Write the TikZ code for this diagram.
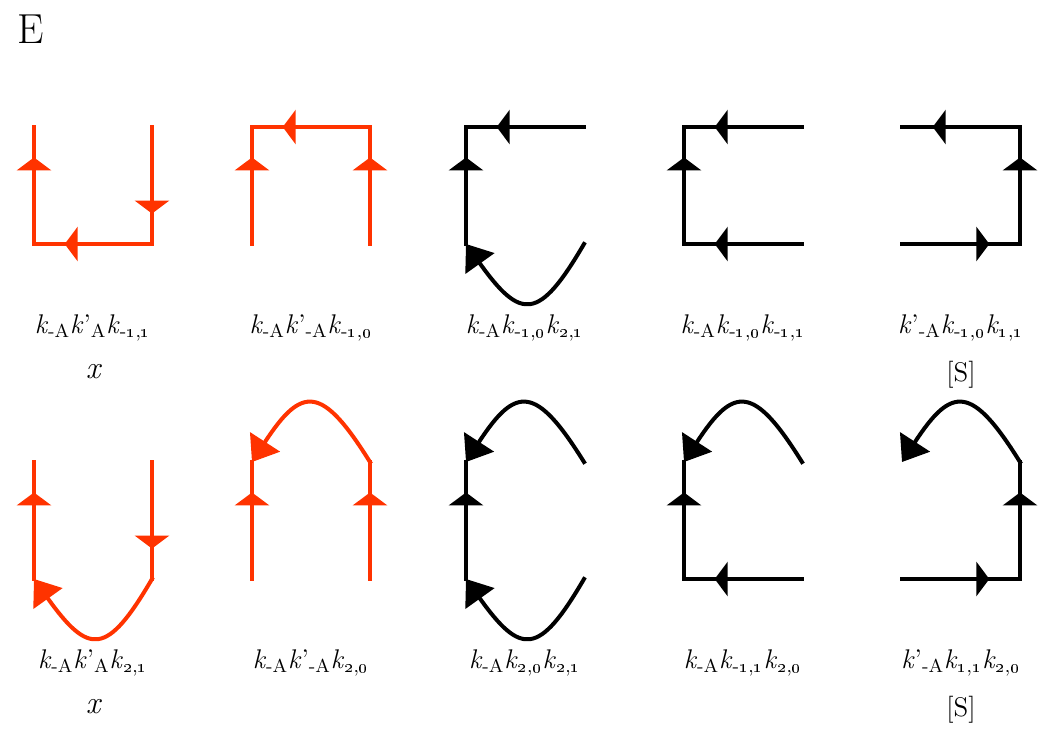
\documentclass[tikz,border=0pt]{standalone}
\usetikzlibrary{arrows.meta,decorations.markings}
\definecolor{pathred}{RGB}{255,51,0}
\newcommand\ratek[1]{\textit{k}\textsubscript{#1}}
\newcommand\ratekp[1]{\textit{k}’\textsubscript{#1}}
\newcommand\os[1]{\oldstylenums{#1}}
\newcommand\corners{%
\coordinate (tl) at (0,0);
\coordinate (tr) at (\W,0);
\coordinate (bl) at (0,\H);
\coordinate (br) at (\W,\H);
}

\begin{document}
\begin{tikzpicture}[x=0.5pt,y=-0.5pt,
	every node/.style={inner sep=0pt,font=\fontsize{13.5}{16}\selectfont},
	seg/.style={line width=2pt,line cap=rect,line join=miter,postaction={decorate},
		decoration={markings,mark=at position 0.74 with {\arrow{Triangle[length=6.5pt,width=17pt]}}}},
	curl/.style={line width=2pt,line cap=rect,-{Triangle[length=12pt,width=17.5pt]}}]
	%% some definitions
	\def\W{118} % panel width
	\def\H{117} % panel height

	\useasboundingbox (0,0) rectangle (1050,740);

	\node[anchor=base west,font=\fontsize{21}{25}\selectfont] (tag) at (17,43) {E};

	% first row
	\begin{scope}[shift={(34,127)},pathred]
		\corners
		\draw[seg] (bl) -- (tl);
		\draw[seg] (tr) -- (br);
		\draw[seg] (br) -- (bl);
	\end{scope}
	\begin{scope}[shift={(252,127)},pathred]
		\corners
		\draw[seg] (bl) -- (tl);
		\draw[seg] (br) -- (tr);
		\draw[seg] (tr) -- (tl);
	\end{scope}
	\begin{scope}[shift={(466,127)}]
		\corners
		\draw[seg] (bl) -- (tl);
		\draw[seg] (tr) -- (tl);
		\draw[curl] (br) .. controls (73,194) and (55,194) .. (bl);
	\end{scope}
	\begin{scope}[shift={(684,127)}]
		\corners
		\draw[seg] (bl) -- (tl);
		\draw[seg] (tr) -- (tl);
		\draw[seg] (br) -- (bl);
	\end{scope}
	\begin{scope}[shift={(902,127)}]
		\corners
		\draw[seg] (bl) -- (br);
		\draw[seg] (br) -- (tr);
		\draw[seg] (tr) -- (tl);
	\end{scope}

	% second row
	\begin{scope}[shift={(34,462)},pathred]
		\corners
		\draw[seg] (bl) -- (tl);
		\draw[seg] (tr) -- (br);
		\draw[curl] (br) .. controls (73,194) and (55,194) .. (bl);
	\end{scope}
	\begin{scope}[shift={(252,462)},pathred]
		\corners
		\draw[seg] (bl) -- (tl);
		\draw[seg] (br) -- (tr);
		\draw[curl] (tr) .. controls (70,-77) and (50,-77) .. (tl);
	\end{scope}
	\begin{scope}[shift={(466,462)}]
		\corners
		\draw[seg] (bl) -- (tl);
		\draw[curl] (tr) .. controls (70,-77) and (50,-77) .. (tl);
		\draw[curl] (br) .. controls (73,194) and (55,194) .. (bl);
	\end{scope}
	\begin{scope}[shift={(684,462)}]
		\corners
		\draw[seg] (bl) -- (tl);
		\draw[curl] (tr) .. controls (70,-77) and (50,-77) .. (tl);
		\draw[seg] (br) -- (bl);
	\end{scope}
	\begin{scope}[shift={(902,462)}]
		\corners
		\draw[seg] (bl) -- (br);
		\draw[seg] (br) -- (tr);
		\draw[curl] (tr) .. controls (70,-77) and (50,-77) .. (tl);
	\end{scope}

	% rate labels
	\node[anchor=base] (rateA) at (93,333) {\ratek{-A}\ratekp{A}\ratek{-\os{1},\os{1}}};
	\node[anchor=base] (rateB) at (311,333) {\ratek{-A}\ratekp{-A}\ratek{-\os{1},\os{0}}};
	\node[anchor=base] (rateC) at (525,333) {\ratek{-A}\ratek{-\os{1},\os{0}}\ratek{\os{2},\os{1}}};
	\node[anchor=base] (rateD) at (743,333) {\ratek{-A}\ratek{-\os{1},\os{0}}\ratek{-\os{1},\os{1}}};
	\node[anchor=base] (rateE) at (961,333) {\ratekp{-A}\ratek{-\os{1},\os{0}}\ratek{\os{1},\os{1}}};
	\node[anchor=base] (rateF) at (93,668) {\ratek{-A}\ratekp{A}\ratek{\os{2},\os{1}}};
	\node[anchor=base] (rateG) at (311,668) {\ratek{-A}\ratekp{-A}\ratek{\os{2},\os{0}}};
	\node[anchor=base] (rateH) at (525,668) {\ratek{-A}\ratek{\os{2},\os{0}}\ratek{\os{2},\os{1}}};
	\node[anchor=base] (rateI) at (743,668) {\ratek{-A}\ratek{-\os{1},\os{1}}\ratek{\os{2},\os{0}}};
	\node[anchor=base] (rateJ) at (961,668) {\ratekp{-A}\ratek{\os{1},\os{1}}\ratek{\os{2},\os{0}}};

	\node[font=\fontsize{16}{19}\selectfont\itshape] (xA) at (93,372) {x};
	\node (sA) at (961,375) {[S]};
	\node[font=\fontsize{16}{19}\selectfont\itshape] (xF) at (93,707) {x};
	\node (sJ) at (961,710) {[S]};
\end{tikzpicture}
\end{document}
